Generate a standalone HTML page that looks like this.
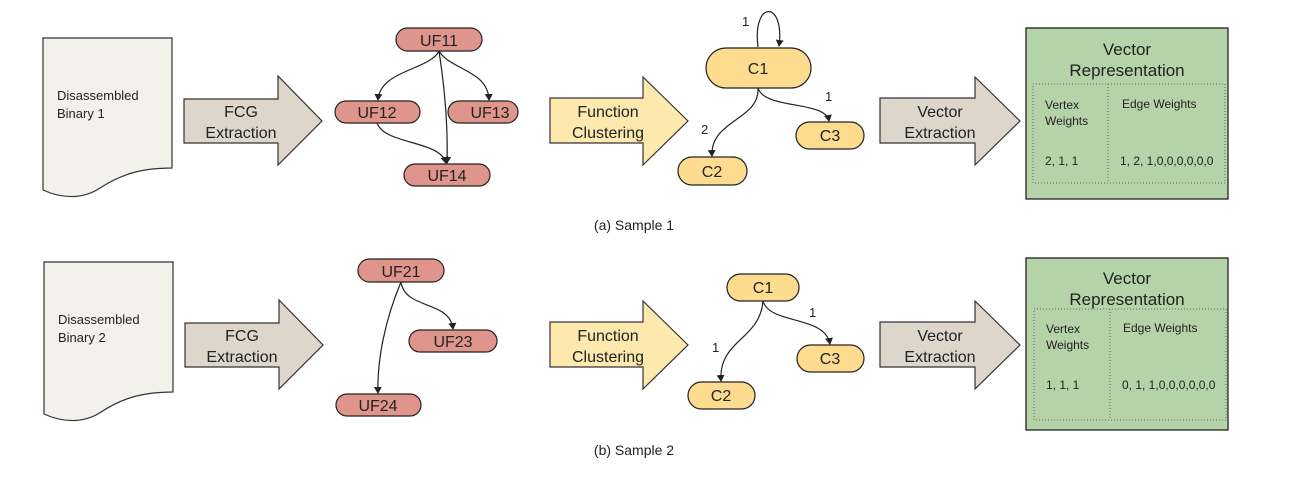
<!DOCTYPE html>
<html><head><meta charset="utf-8"><style>
html,body{margin:0;padding:0;background:#fff;}
svg{display:block;font-family:"Liberation Sans",Arial,sans-serif;}
</style></head><body>
<svg width="1294" height="494" viewBox="0 0 1294 494" xmlns="http://www.w3.org/2000/svg">
<defs>
<marker id="ah" markerWidth="8" markerHeight="8" refX="6" refY="4" orient="auto" markerUnits="userSpaceOnUse">
<path d="M0,0 L7,4 L0,8 Z" fill="#222"/></marker>
<g id="doc">
<path d="M43,38 L172,38 L172,168 C140,168 120,175 100,188 C85,198 65,200 43,190 Z" fill="#f3f2ea" stroke="#333" stroke-width="1.2"/>
</g>
<g id="fcg">
<path d="M184,99 L278,99 L278,76 L322,121 L278,165 L278,143 L184,143 Z" fill="#ded6cb" stroke="#333" stroke-width="1.2"/>
</g>
<g id="fc">
<path d="M550,98 L643,98 L643,77 L688,121 L643,165 L643,143 L550,143 Z" fill="#fde8ae" stroke="#333" stroke-width="1.2"/>
</g>
<g id="ve">
<path d="M880,98 L975,98 L975,77 L1020,121 L975,165 L975,143 L880,143 Z" fill="#ded6cb" stroke="#333" stroke-width="1.2"/>
</g>
</defs>

<!-- Row 1 -->
<use href="#doc"/>
<text x="57" y="100" font-size="13" fill="#222">Disassembled</text>
<text x="57" y="118" font-size="13" fill="#222">Binary 1</text>
<use href="#fcg"/>
<text x="241" y="117" font-size="16" text-anchor="middle" fill="#222">FCG</text>
<text x="241" y="138" font-size="16" text-anchor="middle" fill="#222">Extraction</text>

<g fill="#e0958c" stroke="#222" stroke-width="1.2">
<rect x="396" y="28" width="86" height="23" rx="11.5"/>
<rect x="335" y="101" width="85" height="22" rx="11"/>
<rect x="448" y="101" width="70" height="22" rx="11"/>
<rect x="404" y="164" width="86" height="22" rx="11"/>
</g>
<g font-size="16" text-anchor="middle" fill="#222">
<text x="439" y="46">UF11</text><text x="377" y="118">UF12</text>
<text x="490" y="118">UF13</text><text x="447" y="181">UF14</text>
</g>
<g fill="none" stroke="#222" stroke-width="1.2" marker-end="url(#ah)">
<path d="M439,51 C430,70 380,70 378,100"/>
<path d="M439,51 C450,70 488,70 489,100"/>
<path d="M439,51 C445,90 448,130 447,163"/>
<path d="M377,123 C385,145 440,140 446,163"/>
</g>

<use href="#fc"/>
<text x="608" y="117" font-size="16" text-anchor="middle" fill="#222">Function</text>
<text x="608" y="138" font-size="16" text-anchor="middle" fill="#222">Clustering</text>

<g fill="#fddc8f" stroke="#222" stroke-width="1.2">
<rect x="706" y="48" width="105" height="40" rx="20"/>
<rect x="678" y="157" width="69" height="28" rx="14"/>
<rect x="796" y="122" width="68" height="27" rx="13.5"/>
</g>
<g font-size="16" text-anchor="middle" fill="#222">
<text x="758" y="74">C1</text><text x="712" y="177">C2</text><text x="830" y="141">C3</text>
</g>
<g fill="none" stroke="#222" stroke-width="1.2" marker-end="url(#ah)">
<path d="M758,47 C752,0 785,0 779,46"/>
<path d="M758,88 C760,120 710,120 712,156"/>
<path d="M758,88 C765,110 825,100 829,121"/>
</g>
<g font-size="13" fill="#222"><text x="742" y="26">1</text><text x="825" y="101">1</text><text x="701" y="134">2</text></g>

<use href="#ve"/>
<text x="940" y="117" font-size="16" text-anchor="middle" fill="#222">Vector</text>
<text x="940" y="138" font-size="16" text-anchor="middle" fill="#222">Extraction</text>

<rect x="1026" y="28" width="202" height="171" fill="#b5d3a8" stroke="#222" stroke-width="1.3"/>
<text x="1127" y="55" font-size="17" text-anchor="middle" fill="#222">Vector</text>
<text x="1127" y="76" font-size="17" text-anchor="middle" fill="#222">Representation</text>
<rect x="1033" y="84" width="192" height="99" fill="none" stroke="#666" stroke-width="1" stroke-dasharray="1,2"/>
<line x1="1108" y1="84" x2="1108" y2="183" stroke="#666" stroke-dasharray="1,2"/>
<g font-size="12" fill="#222">
<text x="1045" y="109">Vertex</text><text x="1045" y="125">Weights</text>
<text x="1122" y="108">Edge Weights</text>
<text x="1045" y="165">2, 1, 1</text><text x="1120" y="165">1, 2, 1,0,0,0,0,0,0</text>
</g>
<text x="634" y="230" font-size="14" text-anchor="middle" fill="#222">(a) Sample 1</text>

<!-- Row 2 -->
<g transform="translate(1,224)"><use href="#doc"/></g>
<text x="58" y="324" font-size="13" fill="#222">Disassembled</text>
<text x="58" y="342" font-size="13" fill="#222">Binary 2</text>
<g transform="translate(1,224)"><use href="#fcg"/></g>
<text x="242" y="341" font-size="16" text-anchor="middle" fill="#222">FCG</text>
<text x="242" y="362" font-size="16" text-anchor="middle" fill="#222">Extraction</text>

<g fill="#e0958c" stroke="#222" stroke-width="1.2">
<rect x="358" y="259" width="86" height="23" rx="11.5"/>
<rect x="409" y="330" width="88" height="22" rx="11"/>
<rect x="336" y="394" width="85" height="22" rx="11"/>
</g>
<g font-size="16" text-anchor="middle" fill="#222">
<text x="401" y="277">UF21</text><text x="453" y="347">UF23</text><text x="378" y="411">UF24</text>
</g>
<g fill="none" stroke="#222" stroke-width="1.2" marker-end="url(#ah)">
<path d="M401,282 C405,310 450,300 453,329"/>
<path d="M401,282 C385,320 377,360 378,393"/>
</g>

<g transform="translate(0,224)"><use href="#fc"/></g>
<text x="608" y="341" font-size="16" text-anchor="middle" fill="#222">Function</text>
<text x="608" y="362" font-size="16" text-anchor="middle" fill="#222">Clustering</text>

<g fill="#fddc8f" stroke="#222" stroke-width="1.2">
<rect x="727" y="274" width="72" height="27" rx="13.5"/>
<rect x="688" y="382" width="67" height="27" rx="13.5"/>
<rect x="797" y="345" width="67" height="27" rx="13.5"/>
</g>
<g font-size="16" text-anchor="middle" fill="#222">
<text x="763" y="293">C1</text><text x="721" y="401">C2</text><text x="830" y="364">C3</text>
</g>
<g fill="none" stroke="#222" stroke-width="1.2" marker-end="url(#ah)">
<path d="M763,301 C760,340 718,340 721,381"/>
<path d="M763,301 C770,325 825,315 830,344"/>
</g>
<g font-size="13" fill="#222"><text x="809" y="317">1</text><text x="712" y="352">1</text></g>

<g transform="translate(0,224)"><use href="#ve"/></g>
<text x="940" y="341" font-size="16" text-anchor="middle" fill="#222">Vector</text>
<text x="940" y="362" font-size="16" text-anchor="middle" fill="#222">Extraction</text>

<rect x="1026" y="258" width="202" height="172" fill="#b5d3a8" stroke="#222" stroke-width="1.3"/>
<text x="1127" y="284" font-size="17" text-anchor="middle" fill="#222">Vector</text>
<text x="1127" y="305" font-size="17" text-anchor="middle" fill="#222">Representation</text>
<rect x="1034" y="309" width="192" height="111" fill="none" stroke="#666" stroke-width="1" stroke-dasharray="1,2"/>
<line x1="1110" y1="309" x2="1110" y2="420" stroke="#666" stroke-dasharray="1,2"/>
<g font-size="12" fill="#222">
<text x="1046" y="333">Vertex</text><text x="1046" y="349">Weights</text>
<text x="1123" y="332">Edge Weights</text>
<text x="1046" y="389">1, 1, 1</text><text x="1122" y="389">0, 1, 1,0,0,0,0,0,0</text>
</g>
<text x="634" y="455" font-size="14" text-anchor="middle" fill="#222">(b) Sample 2</text>
</svg>
</body></html>
